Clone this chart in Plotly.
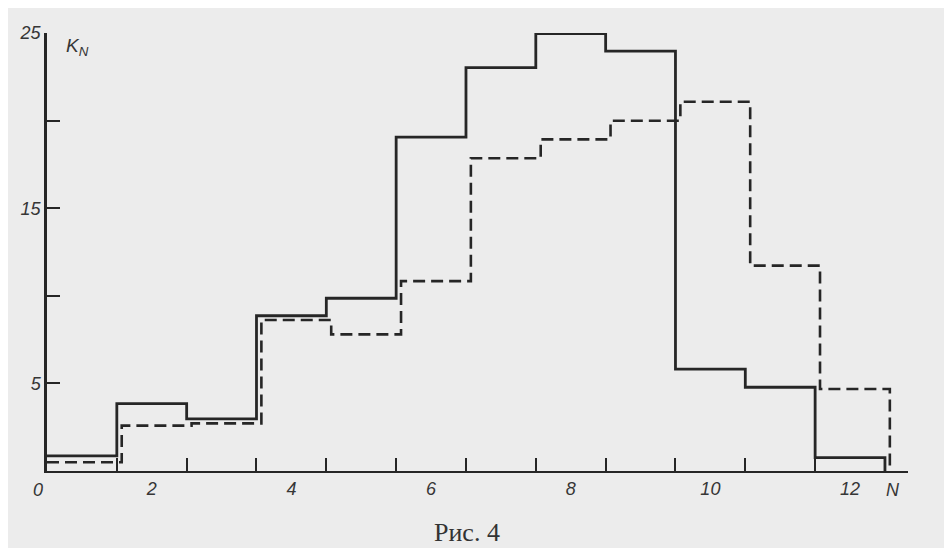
import plotly.graph_objects as go

# ---- data ----
N = [1, 2, 3, 4, 5, 6, 7, 8, 9, 10, 11, 12]
K_solid = [0.86, 3.84, 2.97, 8.86, 9.86, 19.06, 23.02, 24.96, 23.97, 5.82, 4.78, 0.76]
K_dashed = [0.50, 2.59, 2.72, 8.62, 7.80, 10.84, 17.85, 18.93, 19.99, 21.08, 11.72, 4.68]
x_tick_vals = [2, 4, 6, 8, 10, 12]
x_tick_text = ["2", "4", "6", "8", "10", "12"]
y_tick_vals = [5, 15, 25]
y_tick_text = ["5", "15", "25"]
y_minor_vals = [10, 20]
caption = "Рис. 4"

INK = "#262626"
TXT = "#363636"
DASH_SHIFT = 0.07  # the dashed histogram is drawn slightly offset in the original


def step_xy(ns, vals, shift=0.0):
    edges = [n - 0.5 for n in ns] + [ns[-1] + 0.5]
    xs, ys = [edges[0]], [vals[0]]
    for i, v in enumerate(vals):
        right = edges[i + 1] + shift
        xs += [right]
        ys += [v]
        nxt = vals[i + 1] if i + 1 < len(vals) else 0
        xs += [right]
        ys += [nxt]
    return xs, ys, edges


xs_s, ys_s, edges = step_xy(N, K_solid)
xs_d, ys_d, _ = step_xy(N, K_dashed, DASH_SHIFT)

fig = go.Figure()
fig.add_trace(go.Scatter(x=xs_s, y=ys_s, mode="lines",
                         line=dict(color=INK, width=2.8), cliponaxis=False,
                         showlegend=False, hoverinfo="skip"))
fig.add_trace(go.Scatter(x=xs_d, y=ys_d, mode="lines",
                         line=dict(color=INK, width=2.6, dash="12px,6px"),
                         cliponaxis=False, showlegend=False, hoverinfo="skip"))

# the page adds an 8px body margin: the figure sits at (8, 8) in the window
OFF = 8
W, H = 952, 548
ml, mr, mt, mb = 47 - OFF, 44 + OFF, 33 - OFF, 77 + OFF
pw, ph = W - ml - mr, H - mt - mb


def px_x(p):  # window pixel -> paper coordinate
    return (p - OFF - ml) / pw


def px_y(p):
    return (H - mb - (p - OFF)) / ph


tickfont = dict(family="Liberation Sans Narrow, Liberation Sans, Arial", size=18,
                color=TXT, style="italic")

fig.update_layout(
    width=W, height=H,
    margin=dict(l=ml, r=mr, t=mt, b=mb),
    paper_bgcolor="#ececec",
    plot_bgcolor="rgba(0,0,0,0)",
    showlegend=False,
    xaxis=dict(range=[0.5, 12.83], showline=True, linewidth=2, linecolor=INK,
               showgrid=False, zeroline=False, ticks="",
               tickmode="array", tickvals=x_tick_vals, ticktext=x_tick_text,
               tickfont=tickfont, ticklabelstandoff=0,
               minor=dict(ticks="inside", ticklen=13, tickwidth=1.5, tickcolor=INK,
                          tickmode="array", tickvals=edges[1:-1], showgrid=False)),
    yaxis=dict(range=[0, 25], showline=True, linewidth=2.5, linecolor=INK,
               showgrid=False, zeroline=False, ticks="inside", ticklen=13,
               tickwidth=2, tickcolor=INK,
               tickmode="array", tickvals=y_tick_vals, ticktext=y_tick_text,
               tickfont=tickfont,
               minor=dict(ticks="inside", ticklen=13, tickwidth=2, tickcolor=INK,
                          tickmode="array", tickvals=y_minor_vals, showgrid=False)),
    annotations=[
        dict(text="<i>K</i><sub><i>N</i></sub>", x=px_x(64), y=px_y(47),
             xref="paper", yref="paper", xanchor="left", yanchor="middle",
             showarrow=False,
             font=dict(family="Liberation Sans Narrow, Liberation Sans, Arial",
                       size=19, color=TXT)),
        dict(text="0", x=px_x(38), y=px_y(490), xref="paper", yref="paper",
             xanchor="center", yanchor="middle", showarrow=False, font=tickfont),
        dict(text="N", x=px_x(893), y=px_y(490), xref="paper", yref="paper",
             xanchor="center", yanchor="middle", showarrow=False, font=tickfont),
        dict(text=caption, x=px_x(467), y=px_y(532), xref="paper", yref="paper",
             xanchor="center", yanchor="middle", showarrow=False,
             font=dict(family="Liberation Serif, Times New Roman, serif", size=26,
                       color="#333333")),
    ],
)

fig.write_html("out.html")
